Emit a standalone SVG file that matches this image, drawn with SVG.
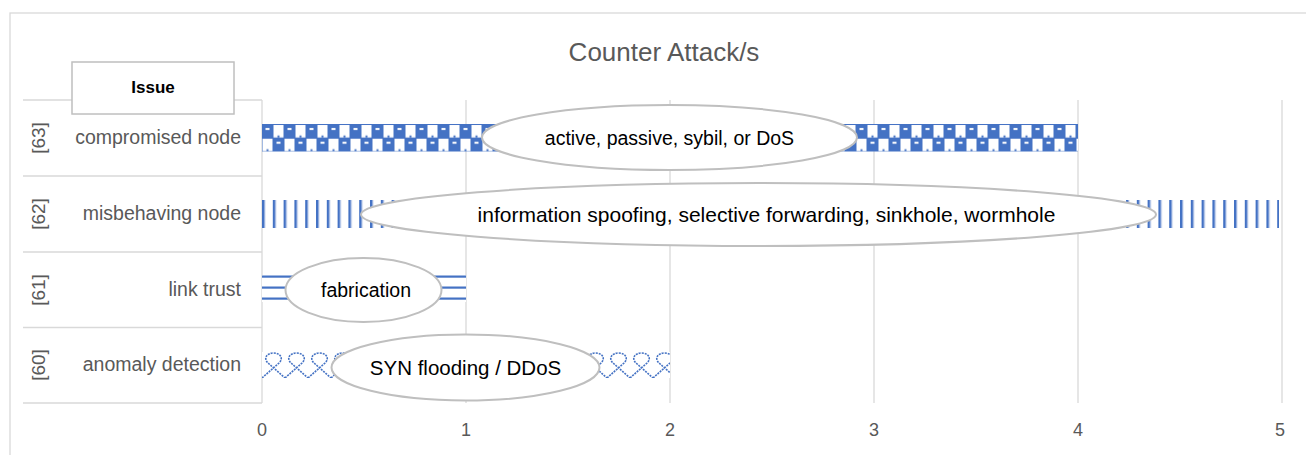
<svg xmlns="http://www.w3.org/2000/svg" width="1306" height="455" viewBox="0 0 1306 455">
  <style>
    .frame { fill: #ffffff; stroke: #d9d9d9; stroke-width: 1.3; }
    .grid { stroke: #d9d9d9; stroke-width: 1.3; fill: none; }
    .title { font-family: "Liberation Sans", Arial, sans-serif; font-size: 26px; fill: #595959; }
    .cat { font-family: "Liberation Sans", Arial, sans-serif; font-size: 19.5px; fill: #595959; text-anchor: end; }
    .ref { font-family: "Liberation Sans", Arial, sans-serif; font-size: 19px; fill: #595959; text-anchor: middle; }
    .tick { font-family: "Liberation Sans", Arial, sans-serif; font-size: 18px; fill: #595959; text-anchor: middle; }
    .hdr { fill: #ffffff; stroke: #bfbfbf; stroke-width: 1.5; }
    .hdr-text { font-family: "Liberation Sans", Arial, sans-serif; font-size: 17px; font-weight: bold; fill: #000000; text-anchor: middle; }
    .bubble { fill: #ffffff; stroke: #bfbfbf; stroke-width: 2; }
    .bubble-text { font-family: "Liberation Sans", Arial, sans-serif; font-size: 19.5px; fill: #000000; text-anchor: middle; }
  </style>
  <defs>
    <!-- checkerboard fill: blue blocks with white notches, white checks with blue specks -->
    <pattern id="pCheck" patternUnits="userSpaceOnUse" x="262" y="124" width="22" height="27.5">
      <rect width="22" height="27.5" fill="#4472c4"/>
      <rect x="11.5" y="1" width="10" height="12.5" fill="#ffffff"/>
      <rect x="0.5" y="14.75" width="10" height="12.5" fill="#ffffff"/>
      <rect x="3.5" y="4" width="4" height="2" fill="#ffffff"/>
      <rect x="14.5" y="17.75" width="4" height="2" fill="#ffffff"/>
      <rect x="15.5" y="11.5" width="2" height="2" fill="#4472c4"/>
      <rect x="4.5" y="25.25" width="2" height="2" fill="#4472c4"/>
    </pattern>
    <!-- vertical stripes -->
    <pattern id="pVert" patternUnits="userSpaceOnUse" x="262" y="200" width="10.8" height="28">
      <rect width="10.8" height="28" fill="#ffffff"/>
      <rect x="0" y="0" width="2" height="28" fill="#4472c4"/>
      <rect x="2" y="0" width="1.2" height="28" fill="#8faadc"/>
    </pattern>
    <!-- horizontal stripes -->
    <pattern id="pHorz" patternUnits="userSpaceOnUse" x="262" y="275" width="20" height="11">
      <rect width="20" height="11" fill="#ffffff"/>
      <rect x="0" y="0.5" width="20" height="2.2" fill="#4472c4"/>
    </pattern>
    <!-- rope / ribbon fill -->
    <pattern id="pRope" patternUnits="userSpaceOnUse" x="262" y="352" width="23" height="26">
      <rect width="23" height="26" fill="#ffffff"/>
      <g fill="none" stroke="#4472c4" stroke-width="1.6" stroke-dasharray="2 1">
        <path d="M0,26 L17,11 C22,6 18,1 11.5,1 C5,1 1,6 6,11 L23,26"/>
        <path d="M-23,26 L-6,11 C-1,6 -5,1 -11.5,1 C-18,1 -22,6 -17,11 L0,26"/>
        <path d="M23,26 L40,11 C45,6 41,1 34.5,1 C28,1 24,6 29,11 L46,26"/>
      </g>
    </pattern>
  </defs>

  <!-- chart area border -->
  <rect class="frame" x="10" y="13" width="1310" height="460"/>

  <!-- title -->
  <text class="title" x="664" y="61" text-anchor="middle">Counter Attack/s</text>

  <!-- gridlines, category separators and axis -->
  <g id="axes">
    <line class="grid" x1="262" y1="100" x2="262" y2="403"/>
    <line class="grid" x1="466" y1="100" x2="466" y2="403"/>
    <line class="grid" x1="670" y1="100" x2="670" y2="403"/>
    <line class="grid" x1="874" y1="100" x2="874" y2="403"/>
    <line class="grid" x1="1078" y1="100" x2="1078" y2="403"/>
    <line class="grid" x1="1282" y1="100" x2="1282" y2="403"/>
    <line class="grid" x1="23" y1="100" x2="262" y2="100"/>
    <line class="grid" x1="23" y1="176" x2="262" y2="176"/>
    <line class="grid" x1="23" y1="252" x2="262" y2="252"/>
    <line class="grid" x1="23" y1="327.5" x2="262" y2="327.5"/>
    <line class="grid" x1="23" y1="403" x2="262" y2="403"/>
    <text class="tick" x="262" y="436">0</text>
    <text class="tick" x="466" y="436">1</text>
    <text class="tick" x="670" y="436">2</text>
    <text class="tick" x="874" y="436">3</text>
    <text class="tick" x="1078" y="436">4</text>
    <text class="tick" x="1280" y="436">5</text>
  </g>

  <!-- header box -->
  <g id="header">
    <rect class="hdr" x="72" y="62" width="162" height="52"/>
    <text class="hdr-text" x="153" y="93">Issue</text>
  </g>

  <!-- rows: category label, reference, bar and attack bubble -->
  <g id="row-63">
    <text class="ref" transform="translate(45,138) rotate(-90)">[63]</text>
    <text class="cat" x="241" y="144">compromised node</text>
    <rect x="262" y="124" width="816" height="27.5" fill="url(#pCheck)"/>
    <ellipse class="bubble" cx="669.5" cy="137.5" rx="187.5" ry="32.5"/>
    <text class="bubble-text" x="669.5" y="145">active, passive, sybil, or DoS</text>
  </g>

  <g id="row-62">
    <text class="ref" transform="translate(45,214) rotate(-90)">[62]</text>
    <text class="cat" x="241" y="220">misbehaving node</text>
    <rect x="262" y="200" width="1017" height="28" fill="url(#pVert)"/>
    <ellipse class="bubble" cx="758.5" cy="214.5" rx="397.5" ry="31.5"/>
    <text class="bubble-text" x="766.5" y="221.5" style="font-size:21px">information spoofing, selective forwarding, sinkhole, wormhole</text>
  </g>

  <g id="row-61">
    <text class="ref" transform="translate(45,290) rotate(-90)">[61]</text>
    <text class="cat" x="241" y="296">link trust</text>
    <rect x="262" y="275" width="204" height="27" fill="url(#pHorz)"/>
    <ellipse class="bubble" cx="363.5" cy="290" rx="78" ry="32"/>
    <text class="bubble-text" x="366" y="297">fabrication</text>
  </g>

  <g id="row-60">
    <text class="ref" transform="translate(45,365) rotate(-90)">[60]</text>
    <text class="cat" x="241" y="371">anomaly detection</text>
    <rect x="262" y="352" width="408" height="26" fill="url(#pRope)"/>
    <ellipse class="bubble" cx="465.5" cy="367.5" rx="134" ry="33"/>
    <text class="bubble-text" x="465.5" y="375" style="font-size:20.5px">SYN flooding / DDoS</text>
  </g>
</svg>
